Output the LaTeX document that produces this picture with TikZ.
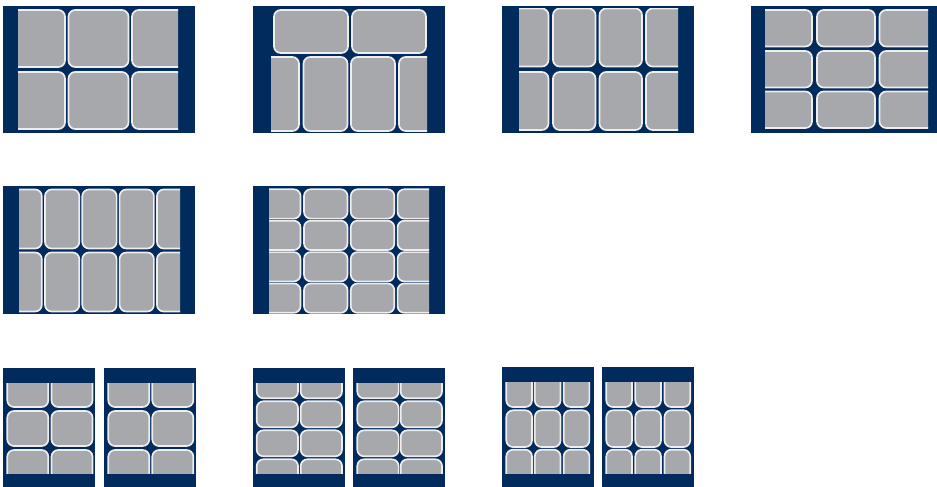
\documentclass[tikz,border=0pt]{standalone}
\usepackage{xcolor}
\usepackage{tikz}
\definecolor{navy}{HTML}{002B5C}
\definecolor{tilegray}{HTML}{A7A8AB}
\definecolor{rim}{HTML}{EEEEEE}

\begin{document}
\begin{tikzpicture}[
    x=0.02cm, y=-0.02cm,
    panel/.style={fill=navy, draw=none},
    tile/.style={fill=tilegray, draw=rim, line width=0.95pt, rounded corners=3.8pt}
]
\useasboundingbox (0,0) rectangle (937,487);

% first row: 2x3, mixed, 2x4, 3x3
\fill[panel] (3,6) rectangle (195,133);
\begin{scope}
  \clip (18,9) rectangle (178,131);
  \foreach \x in {5,68.5,132}
    \foreach \y in {10,72}
      \draw[tile] (\x,\y) rectangle ++(60,57);
\end{scope}

\fill[panel] (253,6) rectangle (445,133);
\begin{scope}
  \clip (271,9) rectangle (427,132);
  \foreach \x in {274,352}
    \draw[tile] (\x,10) rectangle ++(74,43);
  \foreach \x in {255,303.5,351,399}
    \draw[tile] (\x,57) rectangle ++(44,74);
\end{scope}

\fill[panel] (502,6) rectangle (694,133);
\begin{scope}
  \clip (519,8) rectangle (678,131);
  \foreach \x in {506,553,599.5,646}
    \foreach \y in {8.5,72}
      \draw[tile] (\x,\y) rectangle ++(42.5,58);
\end{scope}

\fill[panel] (751,6) rectangle (937,133);
\begin{scope}
  \clip (765,9) rectangle (928,130);
  \foreach \x in {754,817,879.5}
    \foreach \y in {10,51,91.5}
      \draw[tile] (\x,\y) rectangle ++(58,36.5);
\end{scope}

% second row: 2x5, 4x4
\fill[panel] (3,186) rectangle (195,314);
\begin{scope}
  \clip (19,188) rectangle (180,313);
  \foreach \x in {7.5,45,82.3,119.6,157}
    \foreach \y in {189.5,252.5}
      \draw[tile] (\x,\y) rectangle ++(34.3,59);
\end{scope}

\fill[panel] (253,186) rectangle (445,314);
\begin{scope}
  \clip (269,188) rectangle (429,313);
  \foreach \x in {257,304,350.8,397.6}
    \foreach \y in {189.3,220.7,252.1,283.5}
      \draw[tile] (\x,\y) rectangle ++(43.5,29.3);
\end{scope}

% third row: portrait pairs
\fill[panel] (3,368) rectangle (95,487);
\fill[panel] (104,368) rectangle (196,487);
\begin{scope}
  \clip (0,383.7) rectangle (200,473.7);
  \foreach \x in {7.3,51.5,108.3,152.3}
    \foreach \y in {372,411,450}
      \draw[tile] (\x,\y) rectangle ++(41,35);
\end{scope}

\fill[panel] (253,368) rectangle (345,487);
\fill[panel] (353,368) rectangle (445,487);
\begin{scope}
  \clip (250,383.7) rectangle (450,473.7);
  \foreach \x in {256.7,300.7,357.3,400.7}
    \foreach \y in {372.3,401.3,430.3,459.3}
      \draw[tile] (\x,\y) rectangle ++(41.3,26);
\end{scope}

\fill[panel] (502,367) rectangle (594,487);
\fill[panel] (602,367) rectangle (694,487);
\begin{scope}
  \clip (500,382.7) rectangle (700,473.7);
  \foreach \x in {506.3,534.8,563.7,606.3,635.3,664.5}
    \foreach \y in {370.3,410.3,449.7}
      \draw[tile] (\x,\y) rectangle ++(25.7,36.7);
\end{scope}

\end{tikzpicture}
\end{document}
